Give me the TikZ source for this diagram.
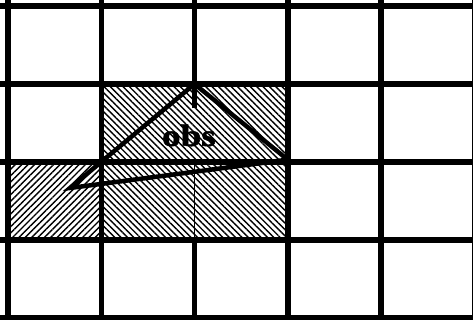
\documentclass[tikz,border=0pt]{standalone}
\usepackage{fontspec}
\setmainfont{Liberation Serif}
\newfontfamily\obsfont[FakeBold=1.5]{Liberation Serif Bold}
\usetikzlibrary{patterns.meta}
\begin{document}
\begin{tikzpicture}[x=93.25pt,y=78pt,
  gridline/.style={line width=5.5pt},
  hatchse/.style={pattern={Lines[angle=-45,distance=4.5pt,line width=1.4pt]}},
  hatchne/.style={pattern={Lines[angle=45,distance=4.5pt,line width=1.4pt]}}]
  \useasboundingbox (-8pt,-2pt) rectangle (465pt,318pt);
  \clip (-8pt,-2pt) rectangle (465pt,318pt);
  \fill[white] (-8pt,-2pt) rectangle (465pt,318pt);
  \fill[hatchne] (0,1) rectangle (1,2);
  \fill[hatchse] (1,1) rectangle (3,2);
  \fill[hatchse] (1,2) rectangle (3,3);
  \foreach \yy in {0,...,4}{\draw[gridline] (-0.2,\yy)--(5.2,\yy);}
  \foreach \xx in {0,1,3,4,5}{\draw[gridline] (\xx,-0.2)--(\xx,4.2);}
  \draw[gridline] (2,-0.2)--(2,1) (2,2.69)--(2,4.2);
  \draw[line width=1.8pt] (2,1)--(2,2);
  \coordinate (T) at (2,3);
  \coordinate (R) at (3,2.03);
  \coordinate (L) at (0.665,1.667);
  \draw[line width=4.5pt,line join=miter] (T)--(R)--(L)--cycle;
  \node[anchor=base,inner sep=0pt] (obs) at (1.94,2.205) {\scalebox{1.2}[1]{\fontsize{31}{31}\selectfont\obsfont obs}};
\end{tikzpicture}
\end{document}
